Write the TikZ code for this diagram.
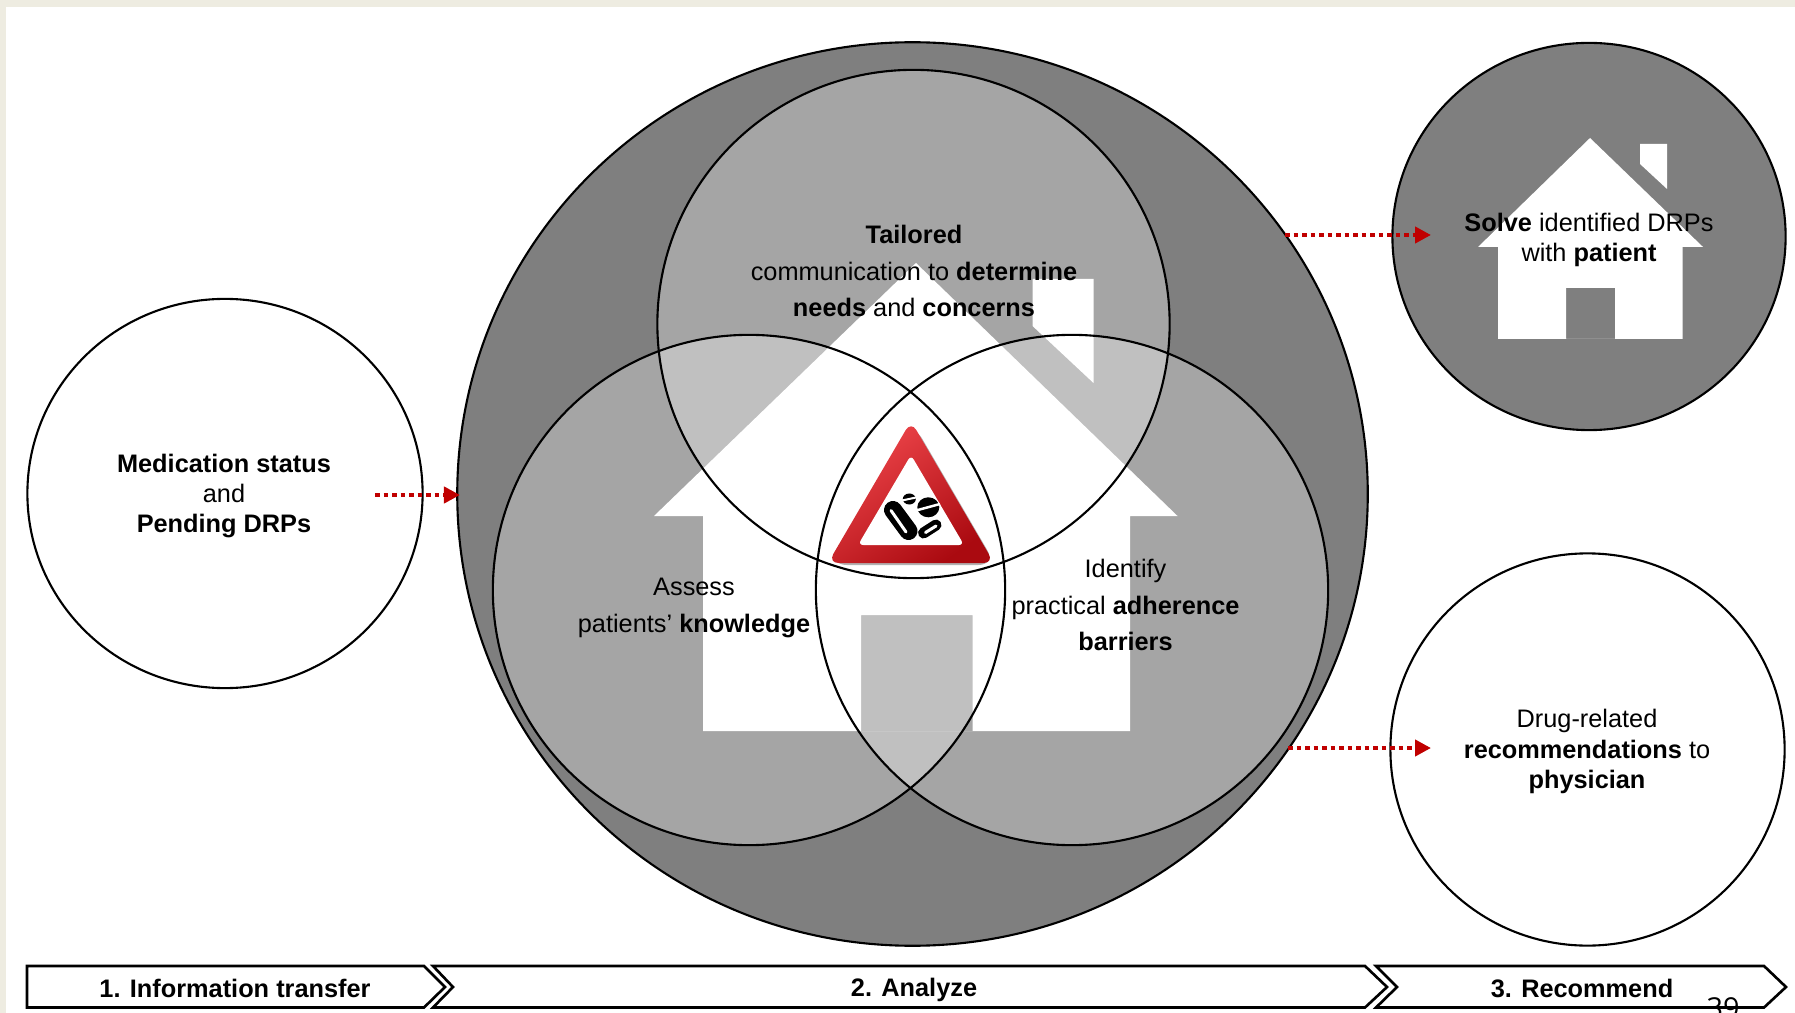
\documentclass[tikz,border=0pt]{standalone}
\usepackage{fontspec}
\setmainfont{Liberation Sans}
\newfontfamily\pagefont{Open Sans}
\usetikzlibrary{shapes.geometric,arrows.meta}
\definecolor{slidebeige}{HTML}{EEECE1}
\definecolor{darkgrey}{HTML}{7F7F7F}
\definecolor{arrowred}{HTML}{C00000}
\definecolor{signlight}{HTML}{F0474C}
\definecolor{signdark}{HTML}{AA0A10}
\tikzstyle{ring}=[ellipse,draw=black,line width=0.6pt,inner sep=0pt]
\tikzstyle{setfill}=[white,opacity=0.3]
\tikzstyle{label}=[font=\fontsize{7.2}{8.6}\selectfont,align=center,inner sep=0pt]
\tikzstyle{widelabel}=[font=\fontsize{7.2}{10.4}\selectfont,align=center,inner sep=0pt]
\tikzstyle{chevron}=[draw=black,fill=white,line width=0.75pt,line join=miter]
\tikzstyle{flowarrow}=[-{Triangle[length=0.16cm,width=0.16cm]},arrowred,line width=0.045cm,dash pattern=on 0.045cm off 0.04cm]
\tikzstyle{house}=[white,even odd rule]

\begin{document}
\begin{tikzpicture}[x=0.01cm,y=-0.01cm]
\useasboundingbox (0,0) rectangle (1795,1013);
\fill[slidebeige] (0,0) rectangle (1795,1013);
\fill[white] (6,7) rectangle (1795,1013);

% large analyze circle and the three sets
\node[ring,fill=darkgrey,minimum width=9.10cm,minimum height=9.03cm] at (912.5,494) (analyze) {};
\fill[setfill] (913.5,324) ellipse [x radius=256,y radius=254];
\fill[setfill] (749,590) ellipse [x radius=256,y radius=255];
\fill[setfill] (1072,590) ellipse [x radius=256,y radius=255];

% big house
\fill[house] (916,263) -- (1177.5,516) -- (1130,516) -- (1130,731) -- (703,731) -- (703,516) -- (654,516) -- cycle
 (861,615) rectangle (972.5,731);
\fill[white] (1032.5,279) -- (1093.5,279) -- (1093.5,383) -- (1032.5,326) -- cycle;

\node[ring,minimum width=5.12cm,minimum height=5.08cm] at (913.5,324) (tailored) {};
\node[ring,minimum width=5.12cm,minimum height=5.10cm] at (749,590) (assess) {};
\node[ring,minimum width=5.12cm,minimum height=5.10cm] at (1072,590) (identify) {};

% warning sign
\fill[black,opacity=0.3] (829,565) [rounded corners=5pt] -- (996,565) -- (913,423) -- cycle;
\shade[top color=signlight,bottom color=signdark,shading angle=35,rounded corners=3pt] (828,563) -- (994,563) -- (911,421) -- cycle;
\fill[white,rounded corners=1.5pt] (858,545) -- (964,545) -- (911,455) -- cycle;
\draw[black,line width=0.18cm,line cap=round] (893,510) -- (908.5,531);
\draw[white,line width=0.03cm,line cap=round] (891,510.5) -- (906,532);
\draw[black,line width=0.11cm,line cap=round] (923.5,533) -- (936,525);
\draw[white,line width=0.03cm,line cap=round] (925.5,532.5) -- (936,526);
\fill[black] (928.3,507.3) ellipse [x radius=11,y radius=10];
\draw[white,line width=0.025cm] (916,510.5) -- (940,504);
\fill[black] (909.3,499) ellipse [x radius=6.5,y radius=5.5];
\draw[white,line width=0.02cm] (902,500.5) -- (916,497.5);

% left circle
\node[ring,fill=white,minimum width=3.95cm,minimum height=3.89cm] at (225,493.5) (status) {};
\coordinate (statusout) at (375,495);
\coordinate (analyzein) at (460,495);
\draw[flowarrow] (statusout) -- (analyzein);

% right circles
\node[ring,fill=darkgrey,minimum width=3.93cm,minimum height=3.87cm] at (1589,236.5) (solve) {};
\fill[house] (1590,138) -- (1703,247) -- (1682.5,247) -- (1682.5,339) -- (1498,339) -- (1498,247) -- (1478,247) -- cycle
 (1566,288) rectangle (1615,339);
\fill[white] (1640,144) -- (1667,144) -- (1667,189) -- (1640,164) -- cycle;
\node[ring,fill=white,minimum width=3.94cm,minimum height=3.92cm] at (1587.5,749.5) (drug) {};
\coordinate (analyzetop) at (1285,235);
\coordinate (solvein) at (1431,235);
\coordinate (analyzelow) at (1288,748);
\coordinate (drugin) at (1431,748);
\draw[flowarrow] (analyzetop) -- (solvein);
\draw[flowarrow] (analyzelow) -- (drugin);

% texts
\node[label] at (224,496) (statustext) {\textbf{Medication status}\\and\\\textbf{Pending DRPs}};
\node[widelabel] at (914,271) (tailoredtext) {\textbf{Tailored}\\communication to \textbf{determine}\\\textbf{needs} and \textbf{concerns}};
\node[widelabel] at (694,608) (assesstext) {Assess\\patients’ \textbf{knowledge}};
\node[widelabel] at (1125.5,605) (identifytext) {Identify\\practical \textbf{adherence}\\\textbf{barriers}};
\node[label] at (1589,240) (solvetext) {\textbf{Solve} identified DRPs\\with \textbf{patient}};
\node[label] at (1587,751.5) (drugtext) {Drug-related\\\textbf{recommendations} to\\\textbf{physician}};

% process bar
\draw[chevron] (27,966) -- (424,966) -- (445,987) -- (424,1007.5) -- (27,1007.5) -- cycle;
\draw[chevron] (433,966) -- (1365,966) -- (1387,987) -- (1365,1007.5) -- (433,1007.5) -- (453,987) -- cycle;
\draw[chevron] (1376,966) -- (1764,966) -- (1786,987) -- (1764,1007.5) -- (1376,1007.5) -- (1397,987) -- cycle;
\node[label] at (235,988) (transfer) {\textbf{1. Information transfer}};
\node[label] at (914,990) (analyzetext) {\textbf{2. Analyze}};
\node[label] at (1582,988) (recommend) {\textbf{3. Recommend}};
\node[anchor=base,inner sep=0pt,font=\pagefont\fontsize{8.2}{10}\selectfont] at (1723,1018) (pagenumber) {39};
\end{tikzpicture}
\end{document}
